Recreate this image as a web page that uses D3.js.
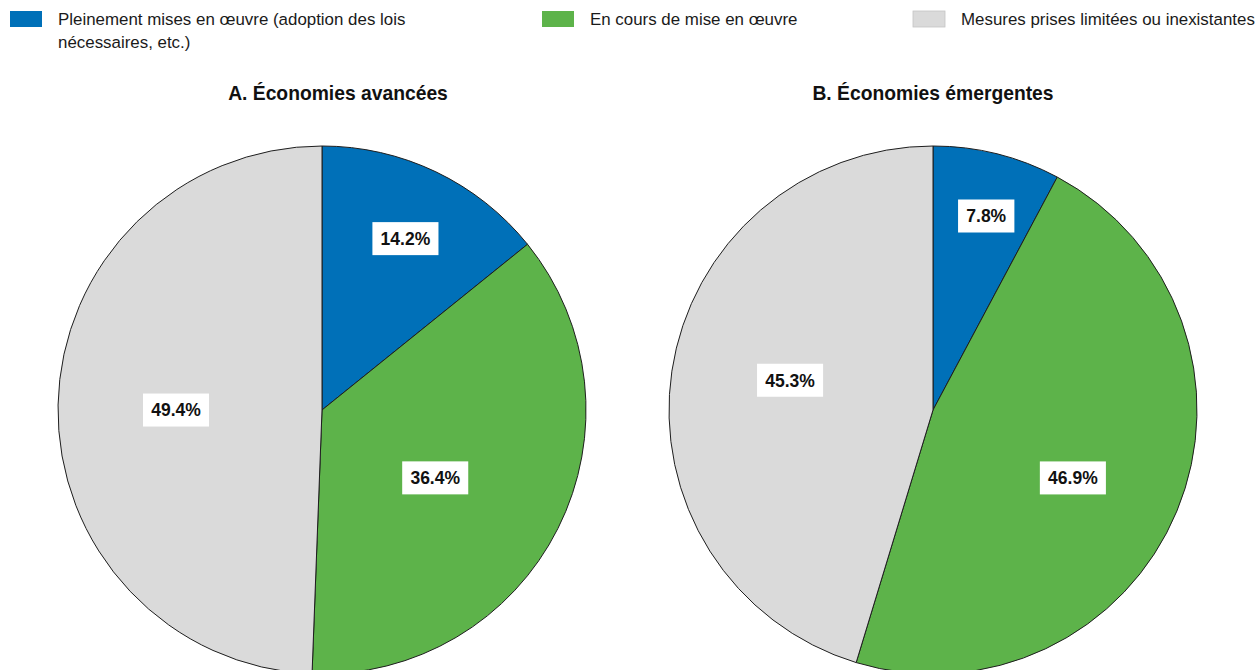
<!DOCTYPE html>
<html>
<head>
<meta charset="utf-8">
<script src="https://cdn.jsdelivr.net/npm/d3@7"></script>
<style>
  html, body { margin: 0; padding: 0; background: #fff; }
  svg { display: block; font-family: "Liberation Sans", Arial, sans-serif; }
</style>
</head>
<body>
<svg id="chart" width="1257" height="670"></svg>
<script>
// Implementation status categories (legend order, clockwise slice order)
const categories = [
  "Pleinement mises en œuvre (adoption des lois nécessaires, etc.)",
  "En cours de mise en œuvre",
  "Mesures prises limitées ou inexistantes"
];
const panelTitles = ["A. Économies avancées", "B. Économies émergentes"];
const advancedValues = [14.2, 36.4, 49.4];
const emergingValues = [7.8, 46.9, 45.3];

// Presentation settings
const colors = ["#0070b8", "#5db34a", "#dadada"];
// label placement: fraction of the radius and angular nudge (degrees) per slice
const labelRadiusFactor = [[0.722, 0.50, 0.553], [0.762, 0.589, 0.553]];
const labelAngleNudge = [[0.4, 4.3, -1.1], [1.3, 3.4, 3.3]];

const svg = d3.select("#chart");

// Legend
const legendItems = [
  { x: 10, lines: ["Pleinement mises en œuvre (adoption des lois", "nécessaires, etc.)"] },
  { x: 542, lines: [categories[1]] },
  { x: 913, lines: [categories[2]] }
];
const legend = svg.append("g").attr("class", "legend");
legendItems.forEach((item, i) => {
  const g = legend.append("g").attr("transform", `translate(${item.x},0)`);
  g.append("rect")
    .attr("x", 0).attr("y", 11).attr("width", 32).attr("height", 16)
    .attr("fill", colors[i])
    .attr("stroke", i === 2 ? "#c4c4c4" : "none")
    .attr("stroke-width", 0.8);
  const t = g.append("text")
    .attr("x", 48).attr("y", 25)
    .attr("font-size", 16.9)
    .attr("fill", "#1a1a1a");
  item.lines.forEach((ln, j) => {
    t.append("tspan").attr("x", 48).attr("dy", j === 0 ? 0 : 22.5).text(ln);
  });
});

// Pies
const radius = 264;
const centers = [{ x: 322, y: 410 }, { x: 933, y: 410 }];
const titleX = [338, 933];
const datasets = [advancedValues, emergingValues];

const pie = d3.pie().sort(null).value(d => d);
const arc = d3.arc().innerRadius(0).outerRadius(radius);

datasets.forEach((values, p) => {
  const c = centers[p];
  const g = svg.append("g").attr("transform", `translate(${c.x},${c.y})`);

  svg.append("text")
    .attr("x", titleX[p]).attr("y", 100)
    .attr("text-anchor", "middle")
    .attr("font-size", 19.3)
    .attr("font-weight", "bold")
    .attr("fill", "#111")
    .text(panelTitles[p]);

  const arcs = pie(values);
  g.selectAll("path.slice")
    .data(arcs)
    .join("path")
    .attr("class", "slice")
    .attr("d", arc)
    .attr("fill", (d, i) => colors[i])
    .attr("stroke", "#1e1e1e")
    .attr("stroke-width", 1);

  arcs.forEach((d, i) => {
    const r = radius * labelRadiusFactor[p][i];
    const a = (d.startAngle + d.endAngle) / 2 + labelAngleNudge[p][i] * Math.PI / 180;
    const lx = r * Math.sin(a);
    const ly = -r * Math.cos(a);
    const lg = g.append("g").attr("transform", `translate(${lx},${ly})`);
    const txt = lg.append("text")
      .attr("text-anchor", "middle")
      .attr("dy", "0.36em")
      .attr("font-size", 17.5)
      .attr("font-weight", "bold")
      .attr("fill", "#111")
      .text(d.data.toFixed(1) + "%");
    const bb = txt.node().getBBox();
    lg.insert("rect", "text")
      .attr("x", -bb.width / 2 - 8)
      .attr("y", -16.5)
      .attr("width", bb.width + 16)
      .attr("height", 33)
      .attr("fill", "#fff");
  });
});
</script>
</body>
</html>
